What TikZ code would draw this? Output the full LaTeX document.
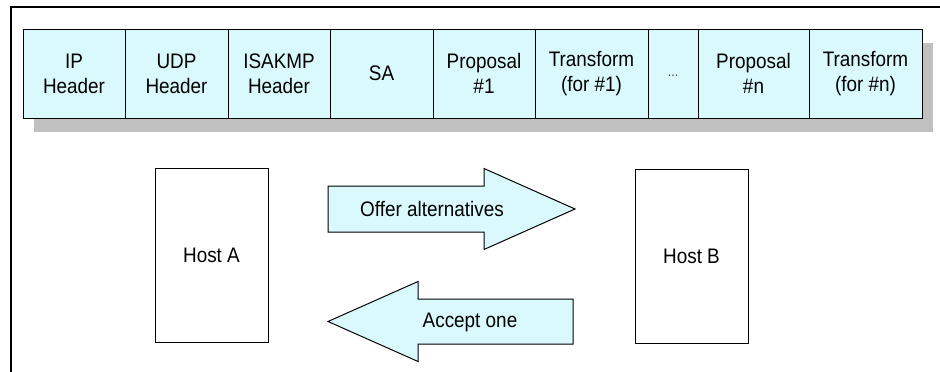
\documentclass[tikz,border=0pt]{standalone}
\usepackage{fontspec}
\setmainfont{Liberation Sans}[FakeStretch=0.9]
\usetikzlibrary{positioning, calc, backgrounds}
\definecolor{cellcyan}{RGB}{217,249,252}
\definecolor{shadowgray}{RGB}{192,192,192}
\tikzset{
  cell/.style={
    rectangle, draw=black, fill=cellcyan, line width=1pt,
    outer sep=0pt, inner sep=0pt,
    minimum width=#1, minimum height=89pt,
    align=center, font=\fontsize{21}{25}\selectfont
  },
  cell/.default=102pt,
  hostbox/.style={
    rectangle, draw=black, fill=white, line width=1pt,
    minimum width=113pt, minimum height=174pt,
    font=\fontsize{21}{25}\selectfont
  },
  blockarrow/.style={draw=black, fill=cellcyan, line width=1pt, line join=miter},
  arrowtext/.style={font=\fontsize{21}{25}\selectfont},
}
\begin{document}
\begin{tikzpicture}[x=1pt, y=-1pt]
  \useasboundingbox (0,0) rectangle (940,372);

  % --- Marco ---
  \draw[line width=1.1pt] (11,372) -- (11,7) -- (940,7);

  % --- Fila superior: paquete ISAKMP ---
  \node (ip) [cell, anchor=north west] at (23,29) {IP\\Header};
  \node (udp) [cell=103pt, right=0pt of ip] {UDP\\Header};
  \node (isakmp) [cell, right=0pt of udp] {ISAKMP\\Header};
  \node (sa) [cell=103pt, right=0pt of isakmp] {SA};
  \node (prop1) [cell, right=0pt of sa] {Proposal\\\#1};
  \node (trans1) [cell=113pt, right=0pt of prop1] {Transform\\(for \#1)};
  \node (dots) [cell=50pt, right=0pt of trans1, font=\fontsize{14}{15}\selectfont, text=black!70] {\raisebox{-6pt}{...}};
  \node (propn) [cell=111pt, right=0pt of dots] {Proposal\\\#n};
  \node (transn) [cell=113pt, right=0pt of propn] {Transform\\(for \#n)};

  % --- Sombra ---
  \begin{scope}[on background layer]
    \fill[shadowgray] ($(ip.north west)+(10.5,14)$) rectangle ($(transn.south east)+(10.5,14)$);
  \end{scope}

  % --- Hosts ---
  \node (hosta) [hostbox] at (211.5,255) {Host A};
  \node (hostb) [hostbox] at (691.5,256.5) {Host B};

  % --- Flechas de negociacion ---
  \draw[blockarrow] (328,186) -- (484,186) -- (484,168.5) -- (575,209)
    -- (484,249.5) -- (484,232) -- (328,232) -- cycle;
  \draw[blockarrow] (573,299) -- (418,299) -- (418,281.5) -- (328,321.5)
    -- (418,361.5) -- (418,344) -- (573,344) -- cycle;
  \node (offer) [arrowtext] at (432,209) {Offer alternatives};
  \node (accept) [arrowtext] at (470,322) {Accept one};

\end{tikzpicture}
\end{document}
